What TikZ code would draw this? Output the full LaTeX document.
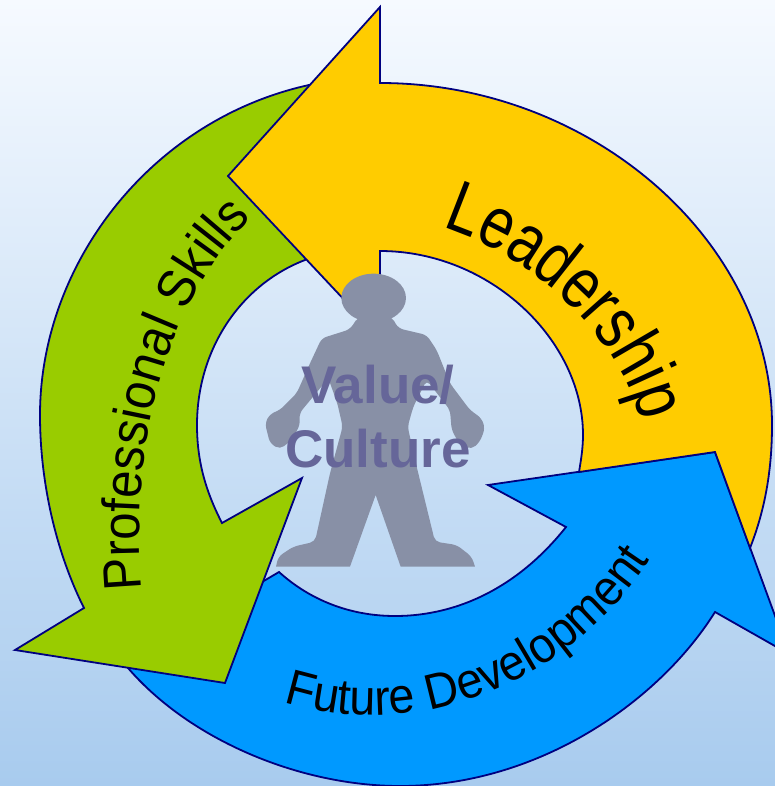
\documentclass[tikz,border=0pt]{standalone}
\usepackage{fontspec}
\usepackage{xcolor}
\usetikzlibrary{decorations.text}
\setmainfont{Liberation Sans}
\newfontfamily\wordfont[FakeStretch=.8]{Liberation Sans}
\newfontfamily\arcfont[FakeStretch=.93]{Liberation Sans}
\definecolor{edgeblue}{HTML}{000080}
\definecolor{skillsgreen}{HTML}{99CC00}
\definecolor{leadyellow}{HTML}{FFCC00}
\definecolor{futureblue}{HTML}{0099FF}
\definecolor{persongrey}{HTML}{8890A6}
\definecolor{valuepurple}{HTML}{666699}
\definecolor{skytop}{HTML}{F6FAFF}
\definecolor{skybottom}{HTML}{A8CBEE}
\tikzset{
	arrowshape/.style={draw=edgeblue, line width=1.8pt, line join=miter},
	wordart/.style={decorate, decoration={text along path, text align=center, text={#1}}}
}

\begin{document}
\begin{tikzpicture}[x=1pt, y=-1pt]
			\useasboundingbox (0, 0) rectangle (775, 786);
			\shade [top color=skytop, bottom color=skybottom] (0, 0) rectangle (775, 786);
			% future development
			\coordinate (futuretip) at (789, 654);
			\coordinate (futurehead) at (715, 452);
			\draw [arrowshape, fill=futureblue] (279, 572) .. controls (310, 600) and (350, 616) .. (395, 616) .. controls (460, 616) and (520, 585) .. (566, 527) -- (488, 485) -- (futurehead) -- (futuretip) -- (715, 612) .. controls (660, 700) and (540, 786) .. (400, 786) .. controls (300, 786) and (190, 740) .. (128, 668) -- (120, 655) -- (262, 582) -- cycle;
			% professional skills
			\coordinate (skillstip) at (225, 683);
			\draw [arrowshape, fill=skillsgreen] (309, 85) .. controls (150, 120) and (40, 265) .. (40, 415) .. controls (40, 480) and (55, 550) .. (84, 608) -- (15, 650) -- (skillstip) -- (302, 478) -- (222, 523) .. controls (205, 490) and (197, 460) .. (197, 425) .. controls (197, 350) and (240, 285) .. (305, 260) -- (340, 200) -- cycle;
			% leadership, cut along the head of the blue arrow
			\coordinate (leadtip) at (228, 176);
			\draw [arrowshape, fill=leadyellow] (380, 83) -- (380, 7) -- (leadtip) -- (380, 338) -- (380, 251) .. controls (490, 251) and (583, 340) .. (583, 435) .. controls (583, 448) and (581, 460) .. (579, 472) -- (futurehead) -- (750, 548) .. controls (765, 510) and (772, 470) .. (772, 425) .. controls (772, 240) and (590, 83) .. cycle;
			% person
			\begin{scope}[shift={(250, 260)}, x=.3333pt, y=-.3333pt, rounded corners=5pt]
				\fill [persongrey] (371, 114) ellipse [x radius=97, y radius=73];
				\fill [persongrey] (425, 170) -- (445, 205) -- (530, 225) -- (560, 270) -- (600, 370) -- (660, 450) -- (695, 475) -- (705, 505) -- (690, 545) -- (665, 568) -- (630, 555) -- (605, 510) -- (600, 450) -- (530, 360) -- (490, 440) -- (473, 500) -- (500, 620) -- (555, 845) -- (620, 855) -- (665, 890) [sharp corners] -- (675, 920) -- (452, 920) -- (377, 705) -- (300, 920) -- (78, 920) [rounded corners=5pt] -- (85, 890) -- (130, 860) -- (195, 845) -- (240, 640) -- (278, 500) -- (262, 430) -- (235, 355) -- (148, 460) -- (150, 495) -- (125, 540) -- (90, 568) -- (60, 550) -- (45, 490) -- (60, 462) -- (90, 450) -- (140, 400) -- (180, 310) -- (215, 235) -- (300, 208) -- (325, 170) -- cycle;
			\end{scope}
			\node (value) at (378, 417) [align=center, text=valuepurple, font=\fontsize{53}{64}\selectfont\bfseries, inner sep=0pt] {Value/\\Culture};
			% labels on the arrows
			\path [wordart={|\wordfont\fontsize{73}{73}\selectfont|Leadership}] (445, 228) .. controls (540, 260) and (620, 340) .. (640, 420);
			\path [wordart={|\arcfont\fontsize{53}{53}\selectfont|Professional Skills}] (141, 580) .. controls (130, 440) and (170, 300) .. (245, 225);
			\path [wordart={|\arcfont\fontsize{50}{50}\selectfont|Future Development}] (262, 694) .. controls (390, 748) and (570, 700) .. (662, 540);
		\end{tikzpicture}
\end{document}
